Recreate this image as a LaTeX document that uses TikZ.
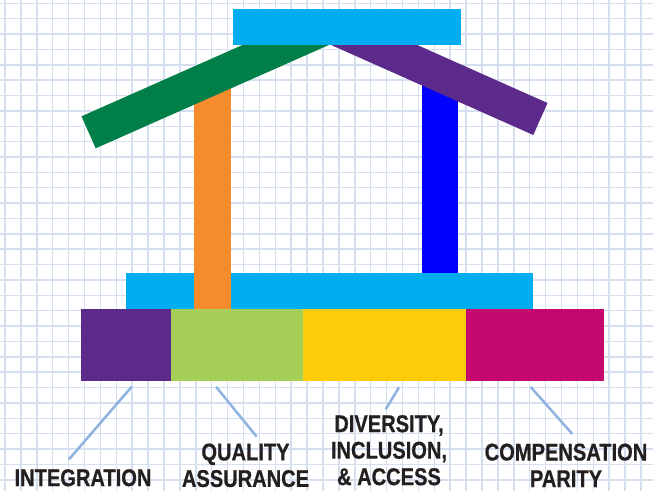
\documentclass[tikz,border=0pt]{standalone}
\usepackage{fontspec}
\newfontfamily\labelfont{Liberation Sans}[FakeStretch=0.83, BoldFeatures={FakeBold=0.6}]
\definecolor{gridline}{HTML}{D5DFF0}
\definecolor{leader}{HTML}{8FB3DF}
\definecolor{sky}{HTML}{00AEEF}
\definecolor{roofgreen}{HTML}{008048}
\definecolor{roofpurple}{HTML}{5C2A8A}
\definecolor{pillarorange}{HTML}{F68B2C}
\definecolor{pillarblue}{HTML}{0000FF}
\definecolor{lime}{HTML}{A6CF57}
\definecolor{gold}{HTML}{FBCB0C}
\definecolor{berry}{HTML}{C5096F}
\definecolor{ink}{HTML}{231F20}
\tikzset{
  label/.style={anchor=north, inner sep=0pt, align=center, text=ink,
    font=\labelfont\bfseries\fontsize{24.2}{26.5}\selectfont},
  leaderline/.style={leader, line width=2.5pt}
}
\begin{document}
\begin{tikzpicture}[x=1pt, y=-1pt]
\useasboundingbox (0,0) rectangle (653,491);
\fill[white] (0,0) rectangle (653,491);
\foreach \k in {0,...,40} \draw[gridline, line width=1.5pt] ({5+15.9*\k},0)--({5+15.9*\k},491);
\foreach \k in {0,...,31} \draw[gridline, line width=1.5pt] (0,{3.3+15.37*\k})--(653,{3.3+15.37*\k});
\fill[sky] (126,273) rectangle (533,309);
\fill[pillarorange] (194,75) rectangle (231,309);
\fill[pillarblue] (422.3,70) rectangle (457.7,273);
\fill[roofgreen] (330,44.5)--(95.7,148.3)--(81.5,116.3)--(315.8,12.5)--cycle;
\fill[roofpurple] (330,44.5)--(533.3,135)--(547.5,103)--(344.2,12.5)--cycle;
\fill[sky] (233,9) rectangle (461,45);
\fill[roofpurple] (81,309) rectangle (171,381);
\fill[lime] (171,309) rectangle (303,381);
\fill[gold] (303,309) rectangle (466,381);
\fill[berry] (466,309) rectangle (604,381);
\node[label] (integration) at (83,469) {INTEGRATION};
\node[label] (quality) at (245.5,443.3) {QUALITY\\ASSURANCE};
\node[label] (diversity) at (389,415) {DIVERSITY,\\INCLUSION,\\\& ACCESS};
\node[label] (compensation) at (566,443.4) {COMPENSATION\\PARITY};
\coordinate (int-a) at (131.7,386.7);
\coordinate (int-b) at (69,459.3);
\coordinate (qa-a) at (216,386.7);
\coordinate (qa-b) at (256.7,436.7);
\coordinate (dia-a) at (399,387.3);
\coordinate (dia-b) at (385.7,409.3);
\coordinate (cp-a) at (530.7,387);
\coordinate (cp-b) at (572.3,434);
\draw[leaderline] (int-a)--(int-b);
\draw[leaderline] (qa-a)--(qa-b);
\draw[leaderline] (dia-a)--(dia-b);
\draw[leaderline] (cp-a)--(cp-b);
\end{tikzpicture}
\end{document}
